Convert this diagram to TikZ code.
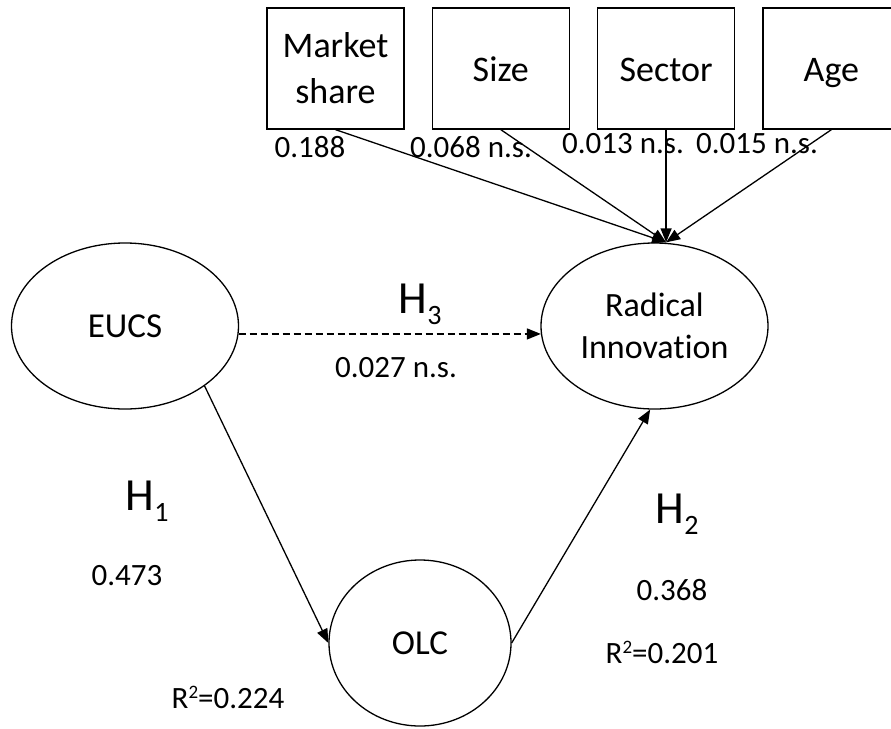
\documentclass[tikz,border=0pt]{standalone}
\usepackage{fontspec}
\setmainfont{Carlito}[Ligatures=NoCommon]
\usetikzlibrary{arrows.meta, positioning, shapes.geometric}

\newcommand{\hlab}[1]{H\raisebox{-11pt}{\fontsize{28}{28}\selectfont #1}}
\newcommand{\rsq}{R\raisebox{10pt}{\fontsize{19}{19}\selectfont 2}}

\begin{document}
\begin{tikzpicture}[x=1pt, y=-1pt, line width=1.3pt,
  latent/.style={draw, ellipse, inner sep=0pt, minimum width=227pt, minimum height=166pt, align=center, font=\fontsize{35}{42}\selectfont},
  ctrl/.style={draw, rectangle, inner sep=0pt, minimum width=137pt, minimum height=121pt, align=center, font=\fontsize{36}{46}\selectfont},
  oneline/.style={text height=32pt, text depth=6pt},
  lab/.style={inner sep=0pt, anchor=base, font=\fontsize{31}{37}\selectfont},
  hyp/.style={inner sep=0pt, anchor=base west, font=\fontsize{46}{50}\selectfont},
  arr/.style={-{Triangle[length=14pt, width=11pt]}}]
\useasboundingbox (0,0) rectangle (891,728);
\node[latent](eucs) at (125,326){EUCS};
\node[latent, font=\fontsize{34}{42}\selectfont](rad) at (654.5,326){Radical\\Innovation};
\node[latent, minimum width=182pt](olc) at (420,643){OLC};
\node[ctrl](ms) at (335.5,68.5){Market\\share};
\node[ctrl, oneline, right=27pt of ms](size){Size};
\node[ctrl, oneline, right=27pt of size](sector){Sector};
\node[ctrl, oneline, right=27pt of sector](age){Age};
\coordinate (tip) at (sector.south |- rad.north);
\draw[arr] (ms.south) -- (tip);
\draw[arr] (size.south) -- (tip);
\draw[arr] (sector.south) -- (tip);
\draw[arr] (age.south) -- (tip);
\draw[arr, dash pattern=on 7pt off 4pt] (eucs.-4) -- (rad.184);
\draw[arr] (eucs.-37) -- (olc.west);
\draw[arr] (olc.east) -- (rad.-93);
\node[lab](l1) at (310,157){0.188};
\node[lab](l2) at (471,157){0.068 n.s.};
\node[lab](l3) at (623,153){0.013 n.s.};
\node[lab](l4) at (757,153){0.015 n.s.};
\node[lab](b3) at (396,377){0.027 n.s.};
\node[lab](b1) at (127,585){0.473};
\node[lab](b2) at (672,600){0.368};
\node[lab](r1) at (228,708){\rsq=0.224};
\node[lab](r2) at (662,663){\rsq=0.201};
\node[hyp](h1) at (125,510){\hlab{1}};
\node[hyp](h2) at (655,523){\hlab{2}};
\node[hyp](h3) at (398,313){\hlab{3}};
\end{tikzpicture}
\end{document}
